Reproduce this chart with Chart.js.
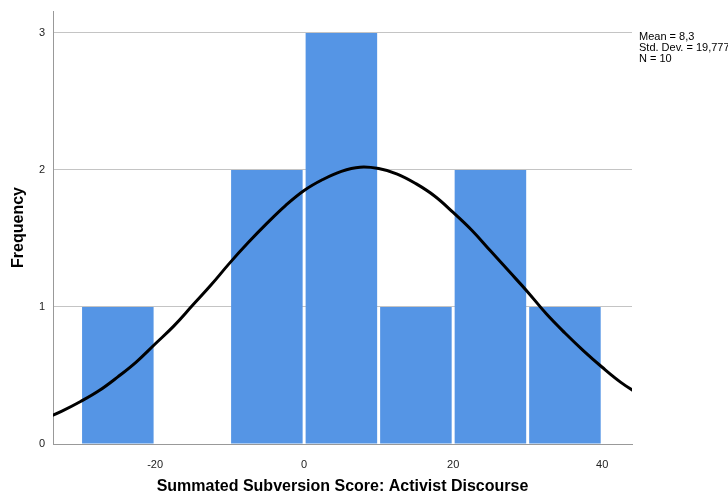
<!DOCTYPE html>
<html>
<head>
<meta charset="utf-8">
<script src="https://cdn.jsdelivr.net/npm/chart.js@4"></script>
<style>
  html, body { margin: 0; padding: 0; background: #fff; }
  #wrap { width: 728px; height: 496px; }
</style>
</head>
<body>
<div id="wrap"><canvas id="chart" width="728" height="496"></canvas></div>
<script>
// histogram bins (centres, width 10) and counts
const binCenters = [-25, -15, -5, 5, 15, 25, 35];
const binCounts = [1, 0, 2, 3, 1, 2, 1];

// normal curve (runs past both edges, clipped by the plot area)
const curveX = [-35, -32.5, -30, -27.5, -25, -22.5, -20, -17.5, -15, -12.5, -10, -7.5, -5, -2.5, 0, 2.5, 5, 7.5,
                10, 12.5, 15, 17.5, 20, 22.5, 25, 27.5, 30, 32.5, 35, 37.5, 40, 42.5, 45];
const curveY = [0.18, 0.24, 0.31, 0.39, 0.49, 0.60, 0.73, 0.86, 1.01, 1.16, 1.32, 1.47, 1.61, 1.74, 1.85, 1.93, 1.99, 2.02,
                2.01, 1.97, 1.90, 1.81, 1.69, 1.56, 1.41, 1.26, 1.11, 0.95, 0.81, 0.68, 0.56, 0.45, 0.36];

const xTicks = [-20, 0, 20, 40];
const yTicks = [0, 1, 2, 3];
const statLines = ["Mean = 8,3", "Std. Dev. = 19,777", "N = 10"];

const xTitle = "Summated Subversion Score: Activist Discourse";
const yTitle = "Frequency";

const FONT = "'Liberation Sans', Arial, sans-serif";

const statsBox = {
  id: 'statsBox',
  afterDraw(chart) {
    const ctx = chart.ctx;
    ctx.save();
    ctx.font = "11px " + FONT;
    ctx.fillStyle = "#000";
    ctx.textBaseline = "top";
    statLines.forEach((t, i) => ctx.fillText(t, 639, 31 + i * 11));
    ctx.restore();
  }
};

new Chart(document.getElementById('chart'), {
  data: {
    datasets: [
      {
        type: 'line',
        data: curveX.map((x, i) => ({ x: x, y: curveY[i] })),
        borderColor: '#000',
        borderWidth: 3,
        pointRadius: 0,
        tension: 0.4,
        fill: false,
        order: 1
      },
      {
        type: 'bar',
        data: binCenters.map((x, i) => ({ x: x, y: binCounts[i] })),
        backgroundColor: '#5595e5',
        borderWidth: 0,
        categoryPercentage: 1,
        barPercentage: 0.96,
        order: 2
      }
    ]
  },
  options: {
    responsive: false,
    animation: false,
    layout: { padding: { left: 0, top: 11, right: 96, bottom: 0 } },
    plugins: { legend: { display: false }, tooltip: { enabled: false } },
    scales: {
      x: {
        type: 'linear',
        offset: false,
        min: -33.7,
        max: 44,
        afterBuildTicks: s => { s.ticks = xTicks.map(v => ({ value: v })); },
        afterFit: s => { s.height = 52; s.paddingLeft = 0; s.paddingRight = 0; },
        grid: { display: false, offset: false },
        border: { display: true, color: '#999', width: 1 },
        ticks: { color: '#222', font: { family: FONT, size: 11 }, padding: 6, maxRotation: 0 },
        title: {
          display: true, text: xTitle, color: '#000',
          font: { family: FONT, size: 16, weight: 'bold' },
          padding: { top: 0, bottom: 0 }
        }
      },
      y: {
        type: 'linear',
        min: 0,
        max: 3.16,
        afterBuildTicks: s => { s.ticks = yTicks.map(v => ({ value: v })); },
        afterFit: s => { s.width = 53; s.paddingTop = 0; s.paddingBottom = 0; },
        grid: { color: '#c4c4c4', drawTicks: false, lineWidth: 1 },
        border: { display: true, color: '#999', width: 1 },
        ticks: { color: '#222', font: { family: FONT, size: 11 }, padding: 8 },
        title: {
          display: true, text: yTitle, color: '#000',
          font: { family: FONT, size: 16, weight: 'bold' },
          padding: { top: 9, bottom: 9 }
        }
      }
    }
  },
  plugins: [statsBox]
});
</script>
</body>
</html>
